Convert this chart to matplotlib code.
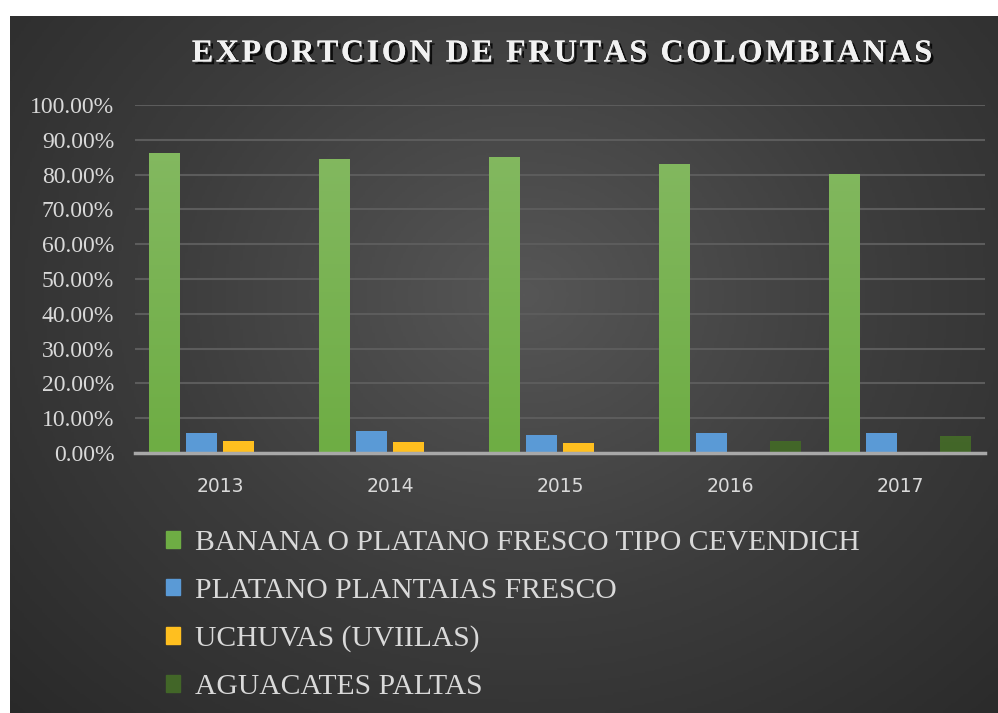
import numpy as np
import matplotlib.pyplot as plt
import matplotlib.patheffects as pe
from matplotlib.colors import LinearSegmentedColormap
from matplotlib.ticker import FuncFormatter

# data (share of exports)
years = ["2013", "2014", "2015", "2016", "2017"]
banana = [0.862, 0.845, 0.851, 0.830, 0.802]
platano = [0.058, 0.063, 0.052, 0.057, 0.057]
uchuvas = [0.034, 0.032, 0.029, 0.0, 0.0]
aguacates = [0.0, 0.0, 0.0, 0.034, 0.049]

series_names = ["BANANA O PLATANO FRESCO TIPO CEVENDICH",
                "PLATANO PLANTAIAS FRESCO",
                "UCHUVAS (UVIILAS)",
                "AGUACATES PALTAS"]
series_vals = [banana, platano, uchuvas, aguacates]
# (top colour, bottom colour) for each series gradient
series_cols = [("#86ba64", "#6ead44"),
               ("#7aace2", "#5a9ad6"),
               ("#ffc83e", "#ffbf1f"),
               ("#678458", "#426628")]

title = "EXPORTCION DE FRUTAS COLOMBIANAS"

fig = plt.figure(figsize=(9.98, 7.13), dpi=100)

# dark radial background of the chart area
bg = fig.add_axes([10 / 998, 0, 1 - 10 / 998, 1 - 16 / 713])
bg.set_axis_off()
yy, xx = np.mgrid[0:1:300j, 0:1:400j]
r = np.sqrt(((xx - 0.52) / 0.75) ** 2 + ((yy - 0.40) / 0.9) ** 2)
bg_cmap = LinearSegmentedColormap.from_list("bg", ["#565656", "#3c3c3c", "#282828"])
bg.imshow(r, cmap=bg_cmap, vmin=0, vmax=1.0, aspect="auto", extent=[0, 1, 0, 1], origin="upper")
bg.set_xlim(0, 1)
bg.set_ylim(0, 1)

ax = fig.add_axes([135 / 998, 1 - 453 / 713, 850 / 998, 348 / 713])
ax.patch.set_alpha(0)

x = np.arange(len(years))
w = 31 / 170
step = 37 / 170
offsets = (np.arange(4) - 1.5) * step

grad = np.linspace(0, 1, 100).reshape(-1, 1)
for vals, (ctop, cbot), off in zip(series_vals, series_cols, offsets):
    bars = ax.bar(x + off, vals, width=w, color=cbot, zorder=3)
    cm = LinearSegmentedColormap.from_list("g", [ctop, cbot])
    for b in bars:
        h = b.get_height()
        if h <= 0:
            continue
        x0 = b.get_x()
        im = ax.imshow(grad, cmap=cm, aspect="auto", zorder=3.5,
                       extent=[x0, x0 + b.get_width(), 0, 1], origin="upper")
        im.set_clip_path(b)

ax.set_xlim(-0.5, len(years) - 0.5)
ax.set_ylim(0, 1.0)
ax.set_yticks(np.arange(0, 1.01, 0.1))
ax.yaxis.set_major_formatter(FuncFormatter(lambda v, p: f"{v * 100:.2f}%"))
ax.set_xticks(x)
ax.set_xticklabels(years)
ax.grid(axis="y", color="#5c5c5c", linewidth=1.5, zorder=0)
for s in ["top", "right", "left"]:
    ax.spines[s].set_visible(False)
ax.spines["bottom"].set_color("#a8a8a8")
ax.spines["bottom"].set_linewidth(2.5)
ax.spines["bottom"].set_zorder(5)
ax.tick_params(axis="both", length=0)
ax.tick_params(axis="y", pad=15, labelsize=17, labelcolor="#d9d9d9")
ax.tick_params(axis="x", pad=17, labelsize=13.5, labelcolor="#d9d9d9")
for t in ax.get_yticklabels():
    t.set_family("Liberation Serif")

# title with a little letter spacing (hair spaces between letters)
spaced = "\u200a".join(title)
fig.text(0.563, 1 - 54 / 713, spaced,
         ha="center", va="center", fontsize=23, fontweight="bold",
         family=["Liberation Serif", "DejaVu Serif"], color="#f2f2f2",
         path_effects=[pe.withSimplePatchShadow(offset=(2, -2), shadow_rgbFace="black", alpha=0.8),
                       pe.Normal()])

handles = [plt.Rectangle((0, 0), 1, 1, color=c[1]) for c in series_cols]
leg = fig.legend(handles, series_names, loc="upper left",
                 bbox_to_anchor=(139 / 998, 1 - 503 / 713),
                 frameon=False, handlelength=0.5, handleheight=0.5,
                 handletextpad=0.5, labelspacing=0.74,
                 prop={"family": "Liberation Serif", "size": 21.3})
for t in leg.get_texts():
    t.set_color("#d9d9d9")

fig.savefig("out.png", dpi=100, facecolor="white")
